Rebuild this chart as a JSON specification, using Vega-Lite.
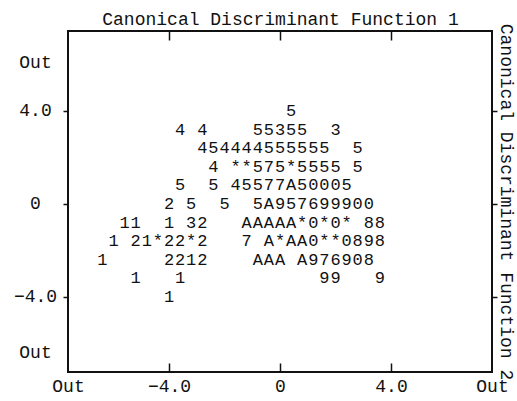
{
  "$schema": "https://vega.github.io/schema/vega-lite/v6.json",
  "width": 424,
  "height": 341,
  "autosize": {"type": "none"},
  "padding": {"left": 68, "top": 31, "right": 25, "bottom": 29},
  "background": "white",
  "config": {
    "view": {"stroke": "#111", "strokeWidth": 2},
    "font": "Liberation Mono",
    "axis": {
      "domain": false,
      "grid": false,
      "tickColor": "#111",
      "tickWidth": 1.5,
      "labelFont": "Liberation Mono",
      "labelFontSize": 18,
      "labelColor": "#111",
      "titleFont": "Liberation Mono",
      "titleFontSize": 18,
      "titleFontWeight": "normal",
      "titleColor": "#111",
      "labelOverlap": false,
      "labelBound": false,
      "labelFlush": false
    }
  },
  "data": {
    "values": [
      {"x": 0.4, "y": 4, "s": "5"},
      {"x": -3.6, "y": 3.2, "s": "4"}, {"x": -2.8, "y": 3.2, "s": "4"}, {"x": -0.8, "y": 3.2, "s": "5"}, {"x": -0.4, "y": 3.2, "s": "5"}, {"x": 0, "y": 3.2, "s": "3"}, {"x": 0.4, "y": 3.2, "s": "5"}, {"x": 0.8, "y": 3.2, "s": "5"}, {"x": 2, "y": 3.2, "s": "3"},
      {"x": -2.8, "y": 2.4, "s": "4"}, {"x": -2.4, "y": 2.4, "s": "5"}, {"x": -2, "y": 2.4, "s": "4"}, {"x": -1.6, "y": 2.4, "s": "4"}, {"x": -1.2, "y": 2.4, "s": "4"}, {"x": -0.8, "y": 2.4, "s": "4"}, {"x": -0.4, "y": 2.4, "s": "5"}, {"x": 0, "y": 2.4, "s": "5"}, {"x": 0.4, "y": 2.4, "s": "5"}, {"x": 0.8, "y": 2.4, "s": "5"}, {"x": 1.2, "y": 2.4, "s": "5"}, {"x": 1.6, "y": 2.4, "s": "5"}, {"x": 2.8, "y": 2.4, "s": "5"},
      {"x": -2.4, "y": 1.6, "s": "4"}, {"x": -1.6, "y": 1.6, "s": "*"}, {"x": -1.2, "y": 1.6, "s": "*"}, {"x": -0.8, "y": 1.6, "s": "5"}, {"x": -0.4, "y": 1.6, "s": "7"}, {"x": 0, "y": 1.6, "s": "5"}, {"x": 0.4, "y": 1.6, "s": "*"}, {"x": 0.8, "y": 1.6, "s": "5"}, {"x": 1.2, "y": 1.6, "s": "5"}, {"x": 1.6, "y": 1.6, "s": "5"}, {"x": 2, "y": 1.6, "s": "5"}, {"x": 2.8, "y": 1.6, "s": "5"},
      {"x": -3.6, "y": 0.8, "s": "5"}, {"x": -2.4, "y": 0.8, "s": "5"}, {"x": -1.6, "y": 0.8, "s": "4"}, {"x": -1.2, "y": 0.8, "s": "5"}, {"x": -0.8, "y": 0.8, "s": "5"}, {"x": -0.4, "y": 0.8, "s": "7"}, {"x": 0, "y": 0.8, "s": "7"}, {"x": 0.4, "y": 0.8, "s": "A"}, {"x": 0.8, "y": 0.8, "s": "5"}, {"x": 1.2, "y": 0.8, "s": "0"}, {"x": 1.6, "y": 0.8, "s": "0"}, {"x": 2, "y": 0.8, "s": "0"}, {"x": 2.4, "y": 0.8, "s": "5"},
      {"x": -4, "y": 0, "s": "2"}, {"x": -3.2, "y": 0, "s": "5"}, {"x": -2, "y": 0, "s": "5"}, {"x": -0.8, "y": 0, "s": "5"}, {"x": -0.4, "y": 0, "s": "A"}, {"x": 0, "y": 0, "s": "9"}, {"x": 0.4, "y": 0, "s": "5"}, {"x": 0.8, "y": 0, "s": "7"}, {"x": 1.2, "y": 0, "s": "6"}, {"x": 1.6, "y": 0, "s": "9"}, {"x": 2, "y": 0, "s": "9"}, {"x": 2.4, "y": 0, "s": "9"}, {"x": 2.8, "y": 0, "s": "0"}, {"x": 3.2, "y": 0, "s": "0"},
      {"x": -5.6, "y": -0.8, "s": "1"}, {"x": -5.2, "y": -0.8, "s": "1"}, {"x": -4, "y": -0.8, "s": "1"}, {"x": -3.2, "y": -0.8, "s": "3"}, {"x": -2.8, "y": -0.8, "s": "2"}, {"x": -1.2, "y": -0.8, "s": "A"}, {"x": -0.8, "y": -0.8, "s": "A"}, {"x": -0.4, "y": -0.8, "s": "A"}, {"x": 0, "y": -0.8, "s": "A"}, {"x": 0.4, "y": -0.8, "s": "A"}, {"x": 0.8, "y": -0.8, "s": "*"}, {"x": 1.2, "y": -0.8, "s": "0"}, {"x": 1.6, "y": -0.8, "s": "*"}, {"x": 2, "y": -0.8, "s": "0"}, {"x": 2.4, "y": -0.8, "s": "*"}, {"x": 3.2, "y": -0.8, "s": "8"}, {"x": 3.6, "y": -0.8, "s": "8"},
      {"x": -6, "y": -1.6, "s": "1"}, {"x": -5.2, "y": -1.6, "s": "2"}, {"x": -4.8, "y": -1.6, "s": "1"}, {"x": -4.4, "y": -1.6, "s": "*"}, {"x": -4, "y": -1.6, "s": "2"}, {"x": -3.6, "y": -1.6, "s": "2"}, {"x": -3.2, "y": -1.6, "s": "*"}, {"x": -2.8, "y": -1.6, "s": "2"}, {"x": -1.2, "y": -1.6, "s": "7"}, {"x": -0.4, "y": -1.6, "s": "A"}, {"x": 0, "y": -1.6, "s": "*"}, {"x": 0.4, "y": -1.6, "s": "A"}, {"x": 0.8, "y": -1.6, "s": "A"}, {"x": 1.2, "y": -1.6, "s": "0"}, {"x": 1.6, "y": -1.6, "s": "*"}, {"x": 2, "y": -1.6, "s": "*"}, {"x": 2.4, "y": -1.6, "s": "0"}, {"x": 2.8, "y": -1.6, "s": "8"}, {"x": 3.2, "y": -1.6, "s": "9"}, {"x": 3.6, "y": -1.6, "s": "8"},
      {"x": -6.4, "y": -2.4, "s": "1"}, {"x": -4, "y": -2.4, "s": "2"}, {"x": -3.6, "y": -2.4, "s": "2"}, {"x": -3.2, "y": -2.4, "s": "1"}, {"x": -2.8, "y": -2.4, "s": "2"}, {"x": -0.8, "y": -2.4, "s": "A"}, {"x": -0.4, "y": -2.4, "s": "A"}, {"x": 0, "y": -2.4, "s": "A"}, {"x": 0.8, "y": -2.4, "s": "A"}, {"x": 1.2, "y": -2.4, "s": "9"}, {"x": 1.6, "y": -2.4, "s": "7"}, {"x": 2, "y": -2.4, "s": "6"}, {"x": 2.4, "y": -2.4, "s": "9"}, {"x": 2.8, "y": -2.4, "s": "0"}, {"x": 3.2, "y": -2.4, "s": "8"},
      {"x": -5.2, "y": -3.2, "s": "1"}, {"x": -3.6, "y": -3.2, "s": "1"}, {"x": 1.6, "y": -3.2, "s": "9"}, {"x": 2, "y": -3.2, "s": "9"}, {"x": 3.6, "y": -3.2, "s": "9"},
      {"x": -4, "y": -4, "s": "1"}
    ]
  },
  "layer": [
    {
      "mark": {"type": "text", "font": "Liberation Mono", "fontSize": 17, "color": "#111", "align": "center", "baseline": "middle"},
      "encoding": {
        "x": {
          "field": "x", "type": "quantitative",
          "scale": {"domain": [-7.64, 7.64], "nice": false, "zero": false},
          "axis": {
            "orient": "bottom", "title": null,
            "values": [-7.64, -4, 0, 4, 7.64],
            "labelExpr": "abs(datum.value) > 5 ? 'Out' : (datum.value == 0 ? '0' : format(datum.value, '.1f'))",
            "tickSize": -9,
            "tickOpacity": {"condition": {"test": "abs(datum.value) > 5", "value": 0}, "value": 1},
            "labelPadding": 14
          }
        },
        "y": {
          "field": "y", "type": "quantitative",
          "scale": {"domain": [-7.23, 7.44], "nice": false, "zero": false},
          "axis": {
            "orient": "left", "title": null,
            "values": [-6.4, -4, 0, 4, 6.1],
            "labelExpr": "abs(datum.value) > 5 ? 'Out' : (datum.value == 0 ? '0' : format(datum.value, '.1f'))",
            "tickSize": 5,
            "tickOpacity": {"condition": {"test": "abs(datum.value) > 5", "value": 0}, "value": 1},
            "labelAlign": "center",
            "labelBaseline": "middle",
            "labelPadding": 28
          }
        },
        "text": {"field": "s", "type": "nominal"}
      }
    },
    {
      "mark": {"type": "text", "opacity": 0},
      "encoding": {
        "x": {
          "field": "x", "type": "quantitative",
          "axis": {
            "orient": "top", "title": "Canonical Discriminant Function 1",
            "values": [-4, 0, 4], "labels": false, "tickSize": -9, "titlePadding": 2
          }
        },
        "y": {
          "field": "y", "type": "quantitative",
          "axis": {
            "orient": "right", "title": "Canonical Discriminant Function 2",
            "values": [-4, 0, 4], "labels": false, "tickSize": 5,
            "titleAngle": 90, "titlePadding": -1, "titleFontSize": 18
          }
        },
        "text": {"field": "s", "type": "nominal"}
      }
    }
  ],
  "resolve": {"axis": {"x": "independent", "y": "independent"}}
}
